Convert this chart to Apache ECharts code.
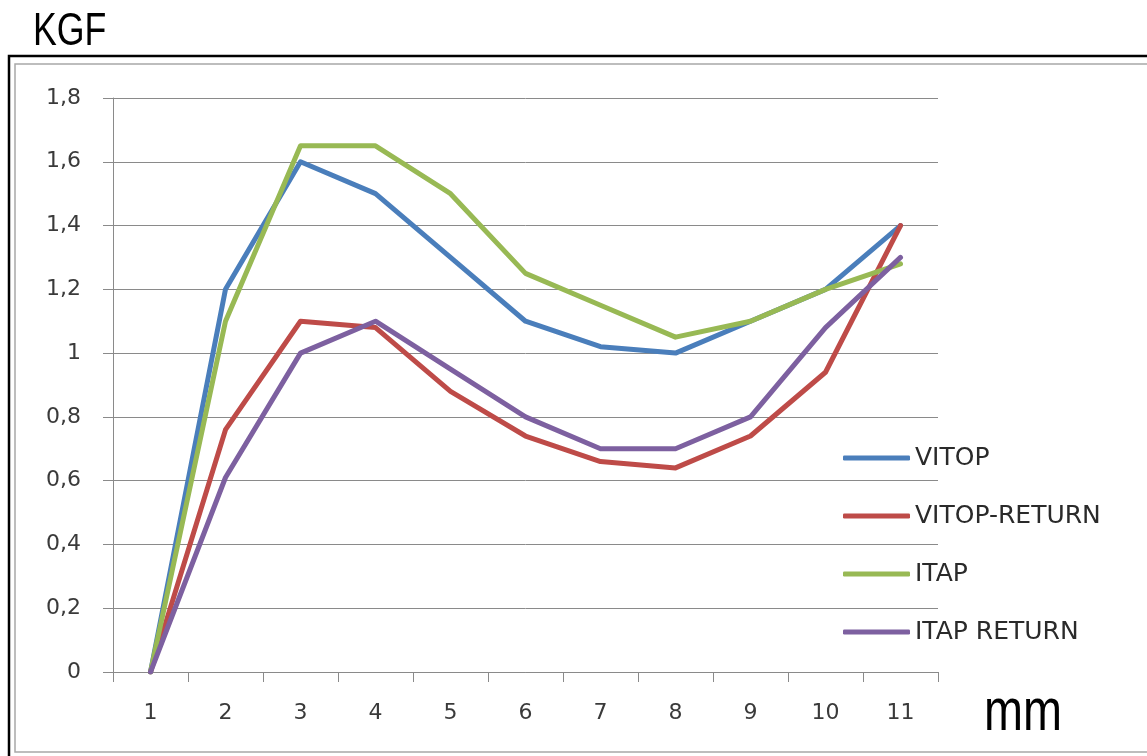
<!DOCTYPE html>
<html>
<head>
<meta charset="utf-8">
<script src="https://cdn.jsdelivr.net/npm/echarts@6/dist/echarts.min.js"></script>
<style>
  html, body { margin: 0; padding: 0; background: #ffffff; }
  #chart { width: 1147px; height: 756px; }
</style>
</head>
<body>
<div id="chart"></div>
<script>
// ---- data ----
var categories = ['1', '2', '3', '4', '5', '6', '7', '8', '9', '10', '11'];
var vitop       = [0, 1.2, 1.6, 1.5, 1.3, 1.1, 1.02, 1.0, 1.1, 1.2, 1.4];
var vitopReturn = [0, 0.76, 1.1, 1.08, 0.88, 0.74, 0.66, 0.64, 0.74, 0.94, 1.4];
var itap        = [0, 1.1, 1.65, 1.65, 1.5, 1.25, 1.15, 1.05, 1.1, 1.2, 1.28];
var itapReturn  = [0, 0.61, 1.0, 1.1, 0.95, 0.8, 0.7, 0.7, 0.8, 1.08, 1.3];
var seriesNames = ['VITOP', 'VITOP-RETURN', 'ITAP', 'ITAP RETURN'];
var yTitle = 'KGF';
var xTitle = 'mm';

var colors = ['#4A7EBB', '#BE4B48', '#98B954', '#7D60A0'];
var gridColor = '#8a8a8a';

function fmt(v) {
  var r = Math.round(v * 10) / 10;
  if (Math.abs(r - Math.round(r)) < 1e-9) return String(Math.round(r));
  return r.toFixed(1).replace('.', ',');
}

function lineSeries(name, data, color) {
  return {
    name: name, type: 'line', data: data,
    symbol: 'none', smooth: false,
    lineStyle: { color: color, width: 5, cap: 'round', join: 'round' },
    itemStyle: { color: color },
    emphasis: { disabled: true },
    animation: false
  };
}

var chart = echarts.init(document.getElementById('chart'));
chart.setOption({
  backgroundColor: '#ffffff',
  animation: false,
  grid: { left: 113, right: 209, top: 98, bottom: 84 },
  xAxis: {
    type: 'category', data: categories, boundaryGap: true,
    axisLine: { show: true, lineStyle: { color: gridColor, width: 1 } },
    axisTick: { show: true, length: 10, lineStyle: { color: gridColor } },
    axisLabel: { margin: 30, fontSize: 22, fontFamily: 'DejaVu Sans', color: '#3a3a3a' },
    splitLine: { show: false }
  },
  yAxis: {
    type: 'value', min: 0, max: 1.8, interval: 0.2,
    axisLine: { show: true, lineStyle: { color: gridColor, width: 1 } },
    axisTick: { show: true, length: 10, lineStyle: { color: gridColor } },
    axisLabel: { margin: 32, fontSize: 22, fontFamily: 'DejaVu Sans', color: '#3a3a3a', formatter: fmt },
    splitLine: { show: true, lineStyle: { color: gridColor, width: 1 } }
  },
  legend: {
    orient: 'vertical', left: 838, top: 438,
    itemGap: 28, itemWidth: 67, itemHeight: 5, icon: 'roundRect',
    textStyle: { fontSize: 25, fontFamily: 'DejaVu Sans', color: '#2a2a2a', lineHeight: 30 },
    data: seriesNames
  },
  series: [
    lineSeries(seriesNames[0], vitop, colors[0]),
    lineSeries(seriesNames[1], vitopReturn, colors[1]),
    lineSeries(seriesNames[2], itap, colors[2]),
    lineSeries(seriesNames[3], itapReturn, colors[3])
  ],
  graphic: [
    { type: 'polyline', silent: true, shape: { points: [[9, 756], [9, 56], [1147, 56]] }, style: { stroke: '#000000', lineWidth: 2.5, fill: null } },
    { type: 'polyline', silent: true, shape: { points: [[1147, 64], [15, 64], [15, 752], [1147, 752]] }, style: { stroke: '#a8a8a8', lineWidth: 1.5, fill: null } },
    { type: 'text', silent: true, x: 33, y: 32, scaleX: 0.76, style: { text: yTitle, fontSize: 47, fontFamily: 'Liberation Sans', fill: '#000000', textAlign: 'left', textVerticalAlign: 'middle' } },
    { type: 'text', silent: true, x: 984, y: 713, scaleX: 0.78, style: { text: xTitle, fontSize: 60, fontFamily: 'Liberation Sans', fill: '#000000', textAlign: 'left', textVerticalAlign: 'middle' } }
  ]
});
</script>
</body>
</html>
